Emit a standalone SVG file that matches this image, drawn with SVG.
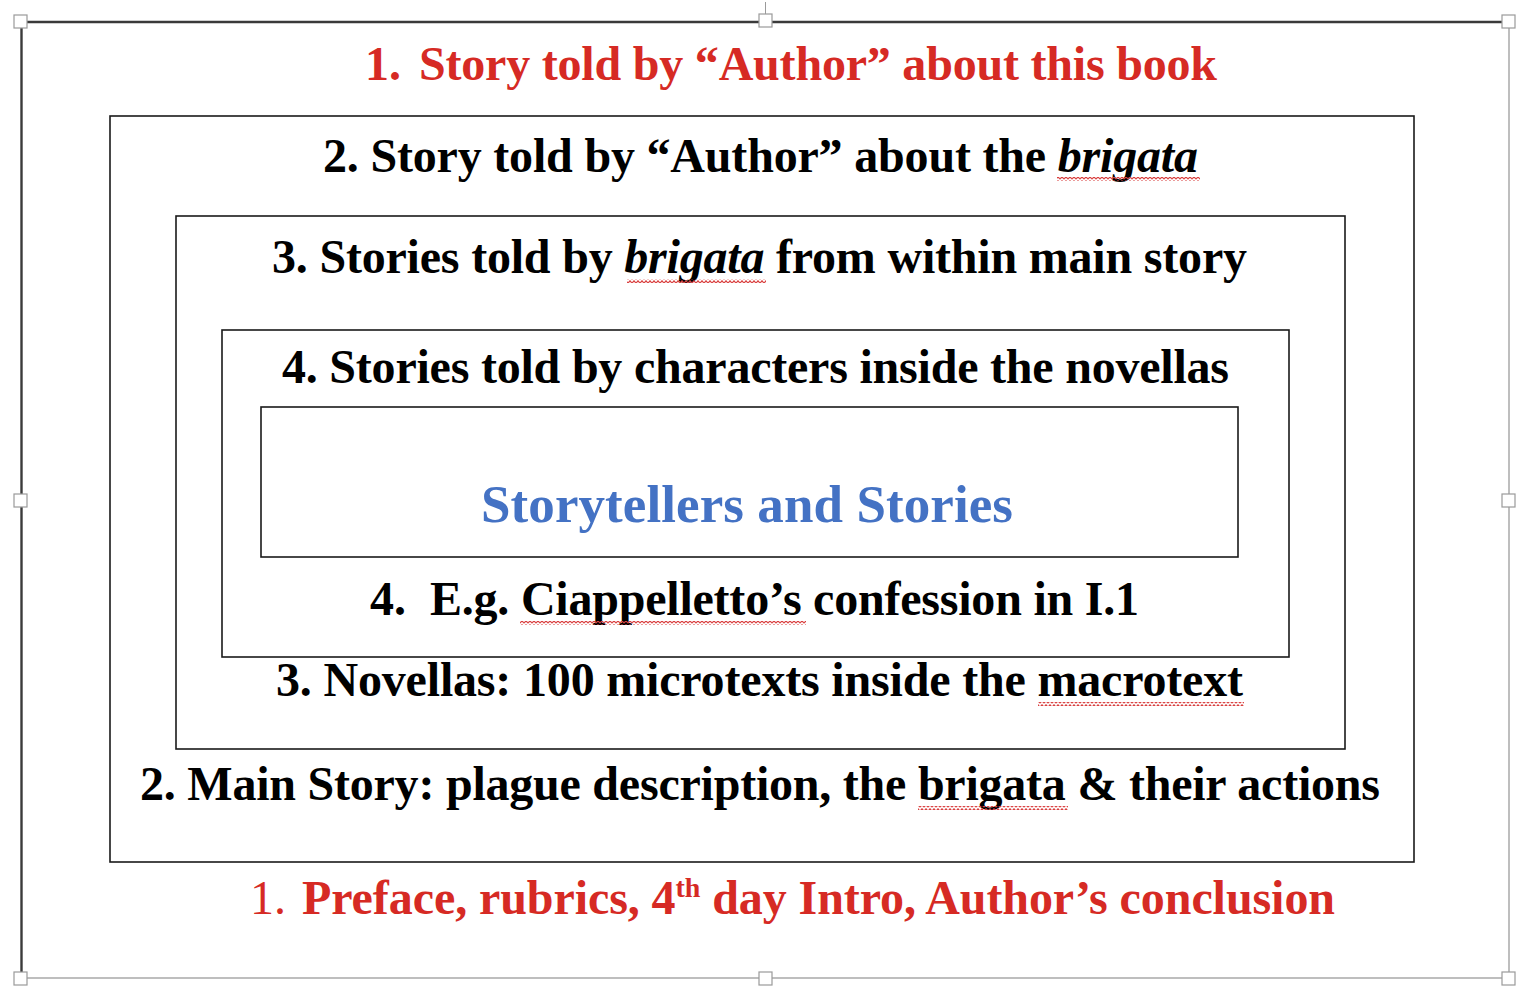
<svg xmlns="http://www.w3.org/2000/svg" width="1536" height="992" viewBox="0 0 1536 992">
  <style>
    .t { font-family: "Liberation Serif", "Times New Roman", serif; font-weight: bold; font-size: 48px; fill: #000; }
    .red { fill: #d62a24; }
    .blue { fill: #4472c4; font-size: 53px; }
    .reg { font-weight: normal; }
    .it { font-style: italic; }
    .box { fill: none; stroke: #1a1a1a; stroke-width: 1.6; }
    .handle { fill: #fff; stroke: #9a9a9a; stroke-width: 1.2; }
  </style>
  <defs>
    <pattern id="squig" patternUnits="userSpaceOnUse" width="4" height="4">
      <polyline points="0,3.2 2,0.8 4,3.2" fill="none" stroke="#d9403f" stroke-width="1.2"/>
    </pattern>
  </defs>
  <rect width="1536" height="992" fill="#fff"/>

  <!-- selection frame -->
  <g id="frame">
    <line x1="1509" y1="22" x2="1509" y2="978" stroke="#a8a8a8" stroke-width="1.5"/>
    <line x1="21" y1="978" x2="1509" y2="978" stroke="#a8a8a8" stroke-width="1.5"/>
    <line x1="20" y1="22" x2="1509" y2="22" stroke="#3a3a3a" stroke-width="2.4"/>
    <line x1="21.5" y1="22" x2="21.5" y2="978" stroke="#3a3a3a" stroke-width="2.4"/>
    <line x1="765.5" y1="2" x2="765.5" y2="15" stroke="#9a9a9a" stroke-width="1"/>
    <rect class="handle" x="14" y="15" width="13" height="13"/>
    <rect class="handle" x="759" y="14" width="13" height="13"/>
    <rect class="handle" x="1502" y="15" width="13" height="13"/>
    <rect class="handle" x="14" y="494" width="13" height="13"/>
    <rect class="handle" x="1502" y="494" width="13" height="13"/>
    <rect class="handle" x="14" y="972" width="13" height="13"/>
    <rect class="handle" x="759" y="972" width="13" height="13"/>
    <rect class="handle" x="1502" y="972" width="13" height="13"/>
  </g>

  <g id="level1">
    <text class="t red" x="365" y="80">1.</text>
    <text class="t red" x="419" y="80" textLength="798" lengthAdjust="spacing">Story told by “Author” about this book</text>
    <text class="t red reg" x="250" y="914">1.</text>
    <text class="t red" x="302" y="914" textLength="1033" lengthAdjust="spacing">Preface, rubrics, 4<tspan font-size="28" dy="-17">th</tspan><tspan dy="17"> day Intro, Author’s conclusion</tspan></text>
  </g>

  <g id="level2">
    <rect class="box" x="110" y="116" width="1304" height="746"/>
    <text class="t" x="323" y="172" textLength="875" lengthAdjust="spacing">2. Story told by “Author” about the <tspan class="it">brigata</tspan></text>
    <text class="t" x="140" y="800" textLength="1240" lengthAdjust="spacing">2. Main Story: plague description, the brigata &amp; their actions</text>
  </g>

  <g id="level3">
    <rect class="box" x="176" y="216" width="1169" height="533"/>
    <text class="t" x="272" y="273" textLength="975" lengthAdjust="spacing">3. Stories told by <tspan class="it">brigata</tspan> from within main story</text>
    <text class="t" x="276" y="696" textLength="967" lengthAdjust="spacing">3. Novellas: 100 microtexts inside the macrotext</text>
  </g>

  <g id="level4">
    <rect class="box" x="222" y="330" width="1067" height="327"/>
    <text class="t" x="282" y="383" textLength="947" lengthAdjust="spacing">4. Stories told by characters inside the novellas</text>
    <text class="t" x="370" y="615">4.</text>
    <text class="t" x="430" y="615" textLength="709" lengthAdjust="spacing">E.g. Ciappelletto’s confession in I.1</text>
  </g>

  <g id="core">
    <rect class="box" x="261" y="407" width="977" height="150"/>
    <text class="t blue" x="481" y="522" textLength="532" lengthAdjust="spacing">Storytellers and Stories</text>
  </g>

  <g id="spellcheck">
    <rect x="1057" y="177" width="143" height="4" fill="url(#squig)"/>
    <rect x="627" y="279" width="139" height="4" fill="url(#squig)"/>
    <rect x="520" y="621" width="286" height="4" fill="url(#squig)"/>
    <rect x="1038" y="702" width="206" height="4" fill="url(#squig)"/>
    <rect x="918" y="806" width="150" height="4" fill="url(#squig)"/>
  </g>
</svg>
